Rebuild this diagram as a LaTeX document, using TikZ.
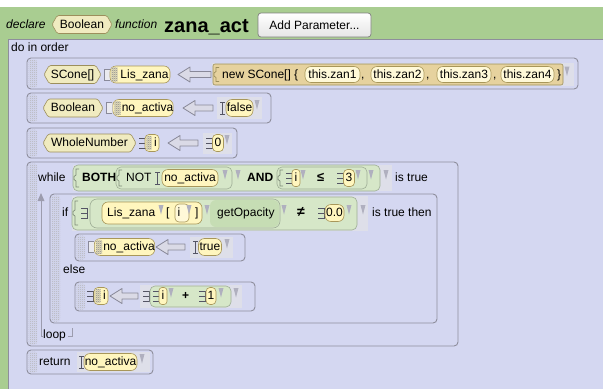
\documentclass[tikz,border=0pt]{standalone}
\usepackage{fontspec}
\setmainfont{Liberation Sans}
\usetikzlibrary{shapes.symbols,patterns}
\pgfdeclarepatternformonly{fineck}{\pgfqpoint{0pt}{0pt}}{\pgfqpoint{2pt}{2pt}}{\pgfqpoint{2pt}{2pt}}{\pgfpathrectangle{\pgfqpoint{0pt}{0pt}}{\pgfqpoint{1pt}{1pt}}\pgfpathrectangle{\pgfqpoint{1pt}{1pt}}{\pgfqpoint{1pt}{1pt}}\pgfusepath{fill}}
\newcommand\fs{\fontsize{12}{14}\selectfont}
\definecolor{hdr}{HTML}{A9CD91}
\definecolor{bg}{HTML}{D4D7F1}
\definecolor{bd}{HTML}{8E8E9C}
\definecolor{tyf}{HTML}{F0EBC0}
\definecolor{tyb}{HTML}{9C8F5C}
\definecolor{vf}{HTML}{FFF6BE}
\definecolor{vl}{HTML}{FFF9D8}
\definecolor{vb}{HTML}{A8975A}
\definecolor{ckb}{HTML}{E4DDB8}
\definecolor{tanc}{HTML}{E6D29E}
\definecolor{gr}{HTML}{D6E7C8}
\definecolor{grd}{HTML}{C6DDB4}
\definecolor{grb}{HTML}{9EAE96}
\definecolor{slot}{HTML}{DEDFE9}
\definecolor{tri}{HTML}{B0B0BF}
\definecolor{loopc}{HTML}{9C9CAE}
\definecolor{arf}{HTML}{DADAE6}
\definecolor{arb}{HTML}{888898}
\definecolor{cnc}{HTML}{555565}
\definecolor{ocb}{HTML}{8A8A9A}
\definecolor{ocf}{HTML}{EAEAF0}
\newcommand\Tri[2]{\fill[tric] ({#1-2.5},{#2-8}) -- ({#1+2.5},{#2-8}) -- (#1,{#2+1.5}) -- cycle;}
\newcommand\Arr[3]{\draw[arrs] (#1,#3) -- ({#1+12},{#3-7.5}) -- ({#1+12},{#3-3}) -- (#2,{#3-3}) -- (#2,{#3+3}) -- ({#1+12},{#3+3}) -- ({#1+12},{#3+7.5}) -- cycle;}
\newcommand\Bc[2]{\draw[cn] (#1,{#2-6}) -- ({#1+5},{#2-6}) ({#1+2.5},{#2-6}) -- ({#1+2.5},{#2+6}) (#1,{#2+6}) -- ({#1+5},{#2+6});}
\newcommand\Nc[2]{\draw[cn] (#1,{#2-5}) -- ({#1+6},{#2-5}) -- ({#1+6},{#2+5}) -- (#1,{#2+5}) (#1,#2) -- ({#1+6},#2);}
\newcommand\Oc[2]{\draw[oc] ({#1+6},{#2-5.5}) -- (#1,{#2-5.5}) -- (#1,{#2+5.5}) -- ({#1+6},{#2+5.5});}
\newcommand\Brk[4][brk]{\draw[#1] ({#2+4},{#3-#4}) -- ({#2+1},{#3-#4}) -- ({#2+1},{#3-3}) -- ({#2-1},{#3-1.5}) -- ({#2-1},{#3+1.5}) -- ({#2+1},{#3+3}) -- ({#2+1},{#3+#4}) -- ({#2+4},{#3+#4});}
\newcommand\Hnd[3]{\fill[hnd] ({#1+1.5},{#2+1.5}) rectangle ({#1+10},{#3-1.5});}
\newcommand\Chk[2]{\fill[ckb,rounded corners=2pt] ([xshift=1.5pt,yshift=-1.5pt]#1.north west) rectangle ([xshift=#2pt,yshift=1.5pt]#1.south west);
  \fill[pattern=fineck,pattern color=black!45] ([xshift=2pt,yshift=-2pt]#1.north west) rectangle ([xshift=#2pt,yshift=2pt]#1.south west);}
\begin{document}
\begin{tikzpicture}[x=1pt,y=-1pt,
  every node/.style={font=\fs,inner sep=0pt},
  lbl/.style={anchor=west,text height=9pt,text depth=2pt},
  pill/.style={rounded corners=6pt,draw=vb,fill=vf,line width=.6pt,minimum height=17pt,text height=9pt,text depth=2pt},
  typ/.style={signal,signal to=west and east,signal pointer angle=120,draw=tyb,fill=tyf,line width=.6pt,minimum height=18pt,text height=9pt,text depth=2pt,rounded corners=1.5pt},
  stmt/.style={draw=bd,line width=.9pt,rounded corners=4pt,fill=bg},
  hnd/.style={pattern=fineck,pattern color=black!30,rounded corners=2.5pt},
  gbox/.style={fill=gr,draw=grb,line width=.6pt,rounded corners=5pt},
  tric/.style={fill=tri},
  arrs/.style={fill=arf,draw=arb,line width=.8pt,line join=round},
  cn/.style={draw=cnc,line width=.7pt},
  oc/.style={draw=ocb,fill=ocf,line width=.6pt},
  brk/.style={draw=grb!80!black,line width=.7pt},
  tbrk/.style={draw=tyb,line width=.7pt}]
\useasboundingbox (0,0) rectangle (603,389);
% header
\fill[white] (0,0) rectangle (603,389);
\fill[hdr] (0,7) rectangle (603,389);
\fill[bg] (8,39) rectangle (603,389);
\draw[bd,line width=.8pt] (8.4,389) -- (8.4,39.4) -- (603,39.4);
\node[lbl,font=\fs\itshape] (decl) at (6,25) {declare};
\node[typ,minimum width=60] (rtype) at (82,24.5) {Boolean};
\node[lbl,font=\fs\itshape] (fn) at (115,25) {function};
\node[anchor=base west,font=\fontsize{20}{24}\selectfont\bfseries] (mname) at (164,32) {zana\_act};
\node[draw=black!50,top color=white,bottom color=black!10,rounded corners=3pt,minimum width=113,minimum height=24,line width=.7pt] (addp) at (314.5,25) {Add Parameter...};
\node[lbl] (doin) at (11,47.5) {do in order};
% statement 1
\draw[stmt] (27,58) rectangle (578,89); \Hnd{27}{58}{89}
\node[typ,minimum width=57] (t1) at (72.5,74.5) {SCone[]};
\Oc{104}{74.5}
\node[pill,minimum width=60] (v1) at (140,74.5) {\hspace*{9pt}Lis\_zana}; \Chk{v1}{8}
\Arr{178}{211}{74.5}
\fill[slot] (212,63) rectangle (574,86);
\draw[fill=tanc,draw=tyb,line width=.6pt,rounded corners=2pt] (213,64) rectangle (563,85);
\Brk[tbrk]{215}{74.5}{7}
\node[lbl] (new) at (222,74.5) {new SCone[] \{};
\node[pill,minimum width=55,fill=vl,minimum height=16] (z1) at (332.5,74.5) {this.zan1};
\node[lbl] (c1) at (361,75) {,};
\node[pill,minimum width=53,fill=vl,minimum height=16] (z2) at (397.5,74.5) {this.zan2};
\node[lbl] (c2) at (426,75) {,};
\node[pill,minimum width=54,fill=vl,minimum height=16] (z3) at (464,74.5) {this.zan3};
\node[lbl] (c3) at (493,75) {,};
\node[pill,minimum width=53,fill=vl,minimum height=16] (z4) at (527.5,74.5) {this.zan4};
\node[lbl] (cb) at (557,74.5) {\}};
\Tri{567}{74.5}
% statement 2
\draw[stmt] (27,93) rectangle (271,123); \Hnd{27}{93}{123}
\node[typ,minimum width=60] (t2) at (73,108) {Boolean};
\Oc{106}{108}
\node[pill,minimum width=60] (v2) at (143,108) {\hspace*{9pt}no\_activa}; \Chk{v2}{8}
\Arr{183}{213}{108}
\fill[slot] (217,97) rectangle (262,119);
\Bc{220}{108}
\node[pill,minimum width=27] (f2) at (239.5,108) {false};
\Tri{257}{108}
% statement 3
\draw[stmt] (27,128) rectangle (237,158); \Hnd{27}{128}{158}
\node[typ,minimum width=93] (t3) at (89.5,143) {WholeNumber};
\Nc{139}{143}
\node[pill,minimum width=14,rounded corners=4pt] (v3) at (152,143) {\hspace*{7pt}i}; \Chk{v3}{7}
\Arr{168}{198}{143}
\fill[slot] (203,133) rectangle (232,154);
\Nc{206}{143}
\node[pill,minimum width=11,rounded corners=4pt] (n0) at (218,143) {0};
\Tri{227}{143}
% while
\draw[stmt] (27,162) rectangle (458,346); \Hnd{27}{162}{346}
\node[lbl] (wh) at (38,178) {while};
\fill[slot] (73,165) rectangle (392,191);
\draw[gbox] (73,165) rectangle (380,191);
\Brk{75}{178}{9}
\node[lbl,font=\fs\bfseries] (both) at (82,178) {BOTH};
\draw[gbox] (116,167) rectangle (232,189);
\Brk{118}{178}{8}
\node[lbl] (not) at (126,178) {NOT};
\Bc{155}{178}
\node[pill,minimum width=56] (v4) at (190,178) {no\_activa};
\Tri{225}{178}
\Tri{238}{178}
\node[lbl,font=\fs\bfseries] (and) at (247,178) {AND};
\draw[gbox] (277,167) rectangle (367,189);
\Brk{279}{178}{8}
\Nc{286}{178}
\node[pill,minimum width=8,rounded corners=3pt] (v5) at (296,178) {i};
\Tri{303}{178}
\node[lbl,font=\fontsize{13}{15}\selectfont\bfseries] (le) at (317,178) {≤};
\Nc{337}{178}
\node[pill,minimum width=11,rounded corners=4pt] (n3) at (349,178) {3};
\Tri{358}{178}
\Tri{371}{178}
\Tri{386}{178}
\node[lbl] (ist) at (395,178) {is true};
% if
\draw[stmt] (50,194) rectangle (437,323); \Hnd{50}{194}{323}
\node[lbl] (ifl) at (62,213) {if};
\fill[slot] (72,196) rectangle (368,231);
\draw[gbox] (72,197) rectangle (357,230);
\Brk{74}{213}{12}
\Nc{81}{213}
\draw[gbox,rounded corners=7pt] (90,199) rectangle (280,228);
\fill[grd,rounded corners=6pt] (210,200) rectangle (279,227);
\node[pill,minimum width=100,minimum height=22] (v6) at (152,213) {};
\node[lbl] (lz) at (107,213) {Lis\_zana};
\Tri{161}{213}
\node[lbl] (lb) at (166,213) {[};
\node[pill,minimum width=14,minimum height=18,fill=vl,rounded corners=4pt] (ii) at (182,213) {i\hspace*{6pt}};
\Tri{189}{213}
\node[lbl] (rb) at (195,213) {]};
\Tri{207}{213}
\node[lbl] (gop) at (217,213) {getOpacity};
\Tri{284}{213}
\node[lbl,font=\fontsize{14}{16}\selectfont\bfseries] (ne) at (297,213) {≠};
\Nc{318}{213}
\node[pill,minimum width=19] (n00) at (334.5,213) {0.0};
\Tri{349}{213}
\Tri{363}{213}
\node[lbl] (itt) at (372,213) {is true then};
% then statement
\draw[stmt] (75,234) rectangle (245,261); \Hnd{75}{234}{261}
\Oc{88}{247}
\node[pill,minimum width=60] (v7) at (124.5,247) {\hspace*{9pt}no\_activa}; \Chk{v7}{8}
\Arr{156}{185}{247}
\fill[slot] (190,237) rectangle (233,258);
\Bc{193}{247}
\node[pill,minimum width=23] (tr) at (210,247) {true};
\Tri{227}{247}
% else
\node[lbl] (els) at (63,270) {else};
\draw[stmt] (75,282) rectangle (255,311); \Hnd{75}{282}{311}
\Nc{87}{296}
\node[pill,minimum width=14,rounded corners=4pt] (v8) at (101,296) {\hspace*{7pt}i}; \Chk{v8}{7}
\Arr{110}{138}{296}
\fill[slot] (140,285) rectangle (242,308);
\Nc{143}{296}
\draw[gbox] (150,286) rectangle (231,307);
\Nc{153}{296}
\node[pill,minimum width=8,rounded corners=3pt] (v9) at (163,296) {i};
\Tri{171}{296}
\node[lbl,font=\fs\bfseries] (plus) at (182,296) {+};
\Nc{199}{296}
\node[pill,minimum width=10,rounded corners=4pt] (n1) at (211,296) {1};
\Tri{221}{296}
\Tri{236}{296}
% loop
\draw[loopc,line width=.8pt] (41,198) -- (41,336) -- (43,336);
\fill[loopc] (37.5,201) -- (44.5,201) -- (41,193) -- cycle;
\node[lbl] (loop) at (43,335) {loop};
\draw[loopc,line width=.8pt] (68,336) -- (72,336) -- (72,328);
% return
\draw[stmt] (27,350) rectangle (153,374); \Hnd{27}{350}{374}
\node[lbl] (ret) at (39,362) {return};
\fill[slot] (77,352) rectangle (150,372);
\Bc{79}{362}
\node[pill,minimum width=53] (v10) at (110.5,362) {no\_activa};
\Tri{142}{362}
\end{tikzpicture}
\end{document}
